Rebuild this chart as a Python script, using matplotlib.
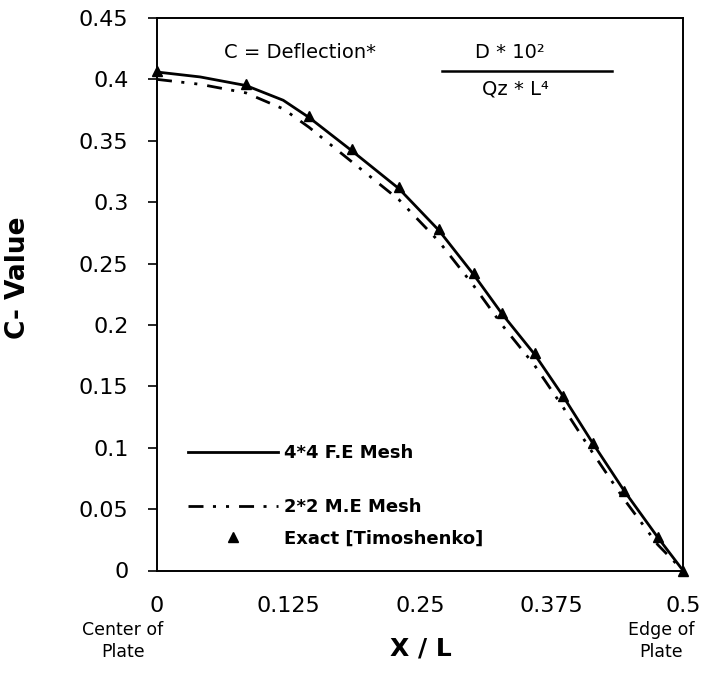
#!/usr/bin/env python3

import matplotlib as mpl
mpl.use("Agg")
mpl.rcParams.update({
    "font.family": "DejaVu Sans",
    "font.size": 15,
})

import matplotlib.pyplot as plt


# x positions (X / L) of the exact solution points
X_POS = [0.0, 0.0846, 0.1445, 0.185, 0.230, 0.268, 0.301,
         0.328, 0.359, 0.386, 0.414, 0.444, 0.476, 0.5]

EXACT = [0.407, 0.396, 0.370, 0.343, 0.312, 0.278, 0.242,
         0.210, 0.177, 0.142, 0.104, 0.065, 0.027, 0.0]

# x positions
LINE_X = [0.0, 0.041, 0.0846, 0.120, 0.1445, 0.185, 0.230, 0.268, 0.301,
          0.328, 0.359, 0.386, 0.414, 0.444, 0.476, 0.5]

FE_MESH = [0.406, 0.402, 0.395, 0.383, 0.369, 0.342, 0.311, 0.277, 0.241,
           0.209, 0.176, 0.142, 0.104, 0.065, 0.027, 0.0]

ME_MESH = [0.400, 0.396, 0.389, 0.376, 0.361, 0.333, 0.302, 0.268, 0.232,
           0.200, 0.167, 0.133, 0.096, 0.058, 0.021, 0.0]

Y_TICKS = [0, 0.05, 0.1, 0.15, 0.2, 0.25, 0.3, 0.35, 0.4, 0.45]
Y_LABELS = ['0', '0.05', '0.1', '0.15', '0.2', '0.25', '0.3', '0.35', '0.4', '0.45']
X_TICKS = [0, 0.125, 0.25, 0.375, 0.5]
X_LABELS = ['0', '0.125', '0.25', '0.375', '0.5']

DASH_DOT_DOT = (0, (5.4, 3.4, 1.1, 3.6, 1.1, 3.6))


def main():
    fig = plt.figure(figsize=(7.08, 6.77), dpi=100)
    ax = fig.add_axes([157 / 708, 1 - 570.5 / 677, 526 / 708, 552.5 / 677])

    fe, = ax.plot(LINE_X, FE_MESH, color='black', lw=2, clip_on=False,
                  solid_joinstyle='round')
    me, = ax.plot(LINE_X, ME_MESH, color='black', lw=2,
                  linestyle=DASH_DOT_DOT, clip_on=False)
    ex, = ax.plot(X_POS, EXACT, linestyle='none', marker='^', color='black',
                  markersize=6.5, clip_on=False, zorder=5)

    ax.set_xlim(0, 0.5)
    ax.set_ylim(0, 0.45)
    ax.set_yticks(Y_TICKS)
    ax.set_yticklabels(Y_LABELS)
    ax.set_xticks(X_TICKS)
    ax.set_xticklabels(X_LABELS)
    ax.tick_params(axis='y', direction='out', length=6.5, width=1.2, pad=14,
                   labelsize=16)
    ax.tick_params(axis='x', length=0, pad=18, labelsize=16)
    for side in ax.spines.values():
        side.set_linewidth(1.4)

    ax.set_ylabel('C- Value', fontsize=19, fontweight='bold', va='center')
    ax.yaxis.set_label_coords(-0.264, 0.529)
    ax.text(0.502, -0.142, 'X / L', transform=ax.transAxes, ha='center',
            va='center', fontsize=18, fontweight='bold')

    ax.text(-0.065, -0.0915, 'Center of\nPlate', transform=ax.transAxes,
            ha='center', va='top', fontsize=12.5, linespacing=1.3)
    ax.text(0.958, -0.0915, 'Edge of\nPlate', transform=ax.transAxes,
            ha='center', va='top', fontsize=12.5, linespacing=1.3)

    # formula
    ax.text(0.272, 0.937, 'C = Deflection*', transform=ax.transAxes,
            ha='center', va='center', fontsize=14)
    ax.text(0.671, 0.938, 'D * 10\u00b2', transform=ax.transAxes,
            ha='center', va='center', fontsize=14)
    ax.plot([0.542, 0.865], [0.904, 0.904], transform=ax.transAxes,
            color='black', lw=1.8)
    ax.text(0.681, 0.871, 'Qz * L\u2074', transform=ax.transAxes,
            ha='center', va='center', fontsize=14)

    # legend, split in two so the uneven row gap is kept
    leg_font = {'size': 13, 'weight': 'bold'}
    leg1 = ax.legend([fe], ['4*4 F.E Mesh'], loc='center left',
                     bbox_to_anchor=(0.0589, 0.2127), frameon=False,
                     borderpad=0, borderaxespad=0, handlelength=5.0,
                     handletextpad=0.3, prop=leg_font)
    ax.add_artist(leg1)
    ax.legend([me, ex], ['2*2 M.E Mesh', 'Exact [Timoshenko]'],
              loc='center left', bbox_to_anchor=(0.0589, 0.086),
              frameon=False, borderpad=0, borderaxespad=0,
              handlelength=5.0, handletextpad=0.3, labelspacing=0.75,
              prop=leg_font)

    fig.savefig('out.png', dpi=100)
    plt.close(fig)


if __name__ == '__main__':
    main()
